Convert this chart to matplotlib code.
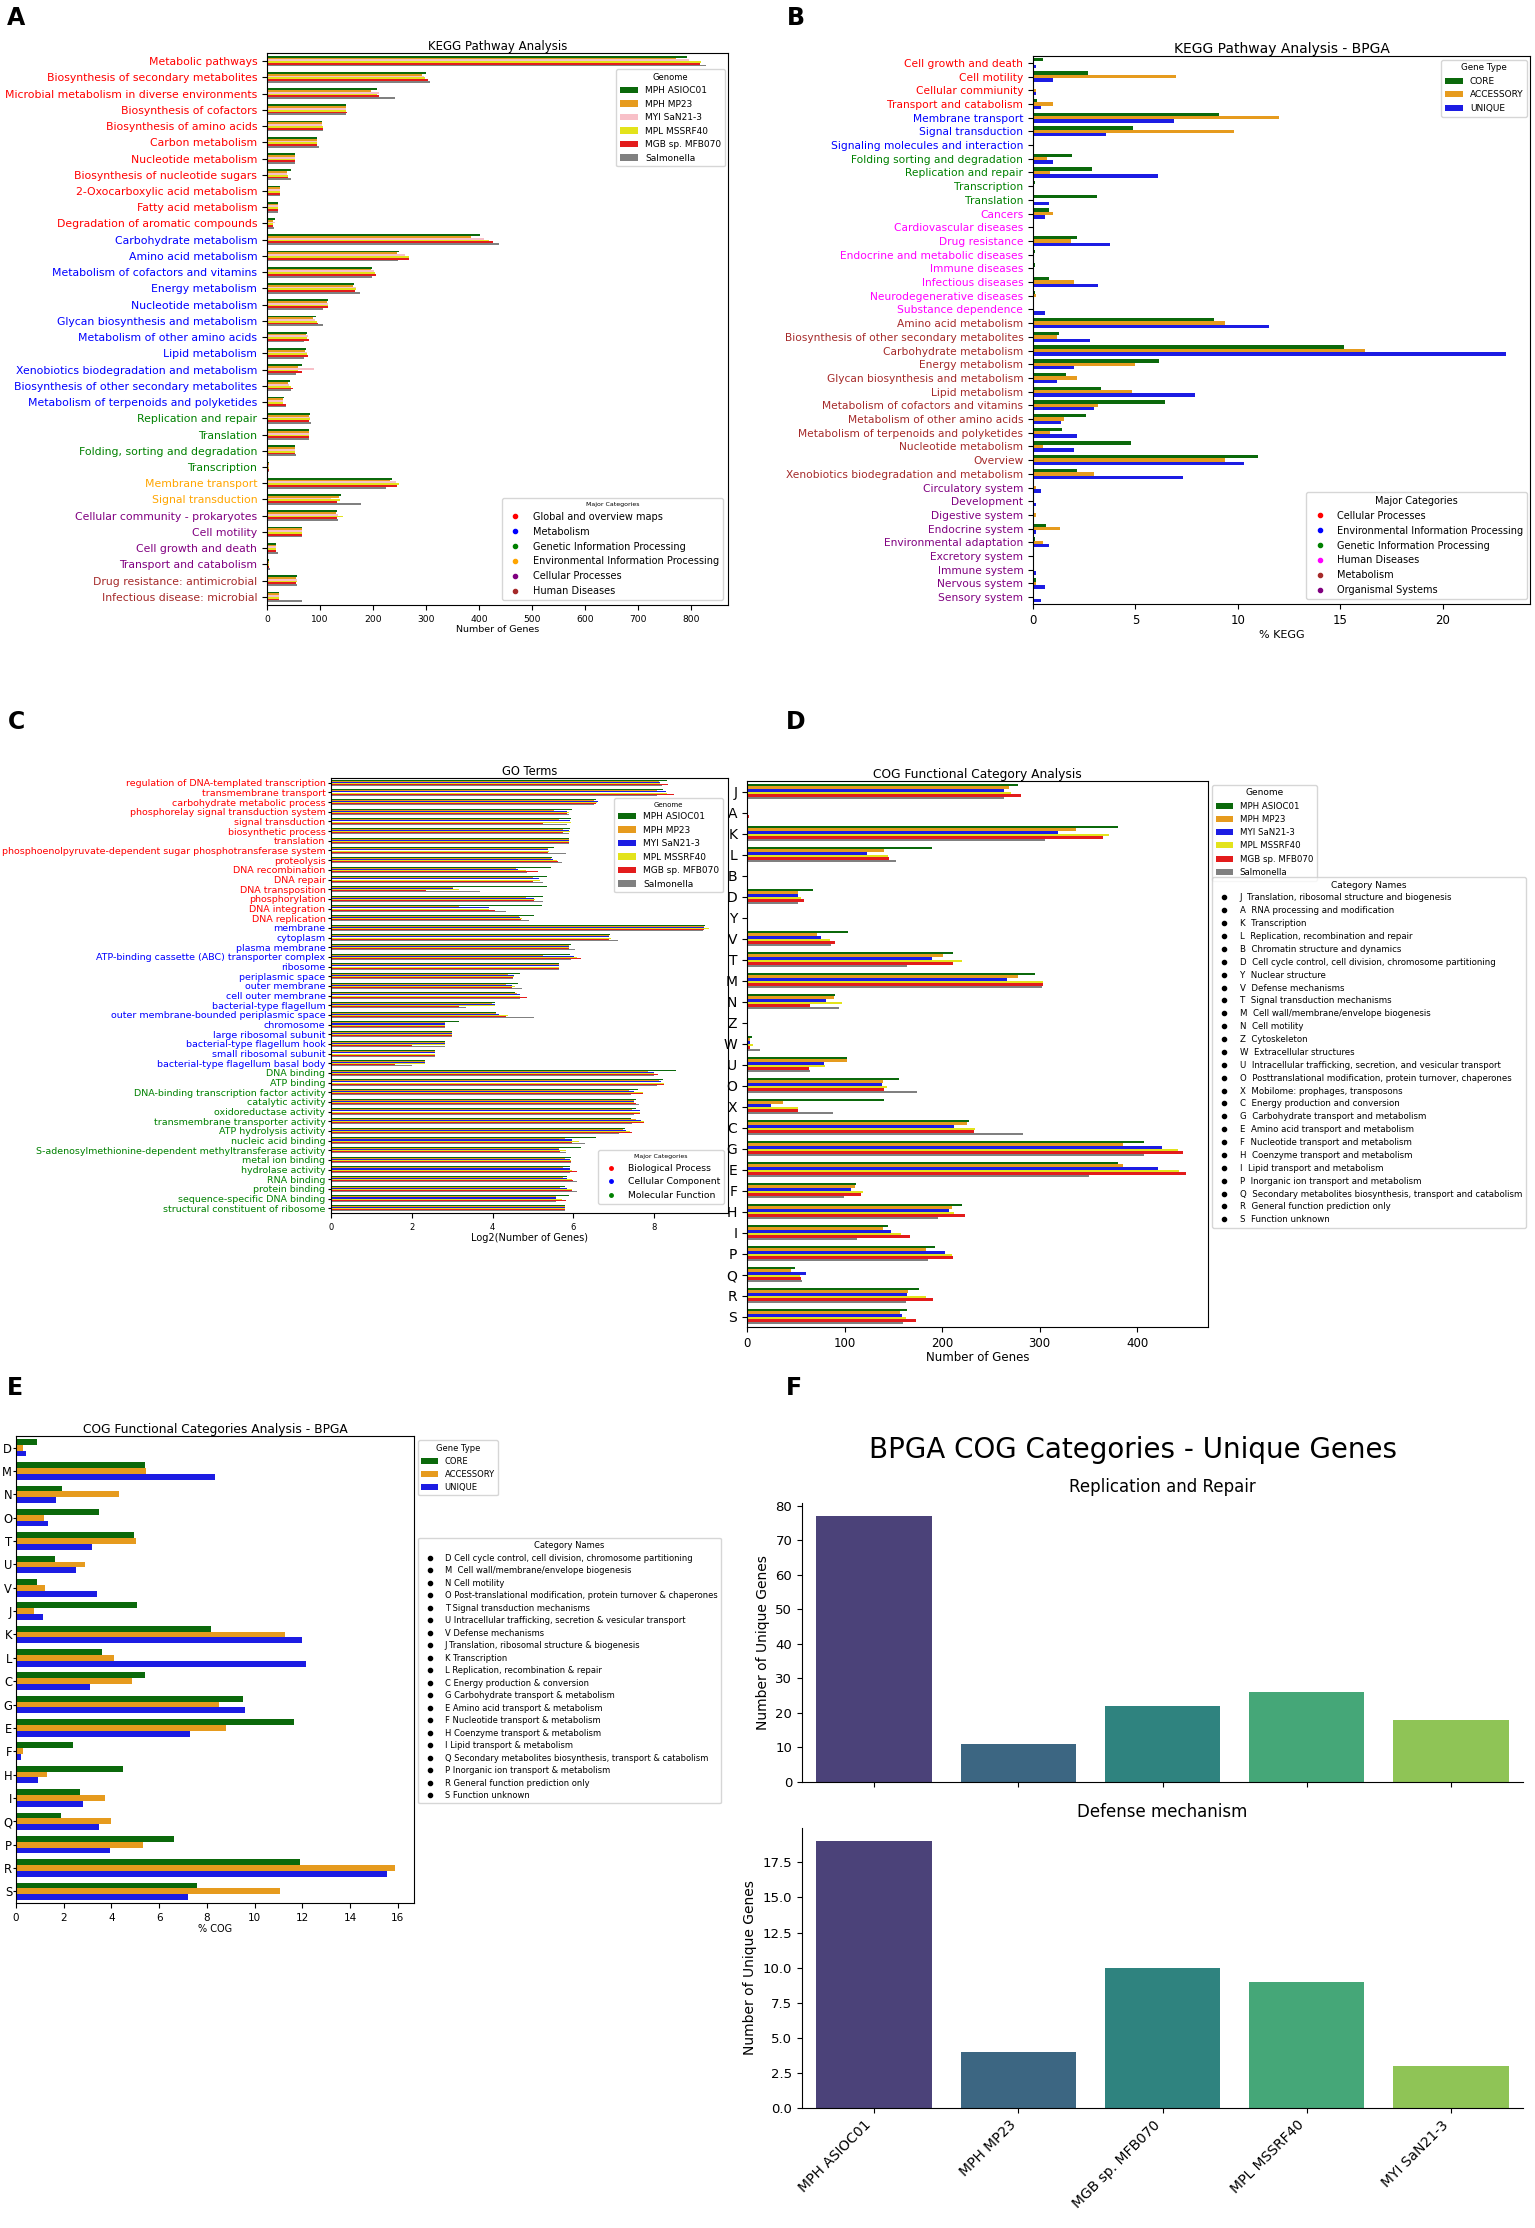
import numpy as np
import matplotlib
matplotlib.use("Agg")
import matplotlib.pyplot as plt
from matplotlib.lines import Line2D
import seaborn as sns

W, H = 1535, 2228

genomes = ["MPH ASIOC01", "MPH MP23", "MYI SaN21-3", "MPL MSSRF40", "MGB sp. MFB070", "Salmonella"]
gene_types = ["CORE", "ACCESSORY", "UNIQUE"]

# ---------------- panel A : KEGG pathways per genome ----------------
A_cats = ["Metabolic pathways", "Biosynthesis of secondary metabolites",
          "Microbial metabolism in diverse environments", "Biosynthesis of cofactors",
          "Biosynthesis of amino acids", "Carbon metabolism", "Nucleotide metabolism",
          "Biosynthesis of nucleotide sugars", "2-Oxocarboxylic acid metabolism",
          "Fatty acid metabolism", "Degradation of aromatic compounds",
          "Carbohydrate metabolism", "Amino acid metabolism",
          "Metabolism of cofactors and vitamins", "Energy metabolism", "Nucleotide metabolism",
          "Glycan biosynthesis and metabolism", "Metabolism of other amino acids",
          "Lipid metabolism", "Xenobiotics biodegradation and metabolism",
          "Biosynthesis of other secondary metabolites", "Metabolism of terpenoids and polyketides",
          "Replication and repair", "Translation", "Folding, sorting and degradation",
          "Transcription", "Membrane transport", "Signal transduction",
          "Cellular community - prokaryotes", "Cell motility", "Cell growth and death",
          "Transport and catabolism", "Drug resistance: antimicrobial",
          "Infectious disease: microbial"]
A_major = (["Global and overview maps"] * 11 + ["Metabolism"] * 11
           + ["Genetic Information Processing"] * 4
           + ["Environmental Information Processing"] * 2
           + ["Cellular Processes"] * 4 + ["Human Diseases"] * 2)
A_ASIOC01 = [793, 300, 207, 150, 103, 95, 53, 45, 24, 20, 16, 402, 250, 199, 165, 116, 93,
             76, 74, 67, 44, 32, 81, 80, 53, 4, 236, 140, 133, 66, 17, 4, 56, 22]
A_MP23 = [773, 292, 196, 150, 103, 94, 53, 38, 24, 20, 12, 386, 246, 197, 163, 114, 86,
          74, 72, 58, 40, 31, 80, 80, 53, 3, 233, 136, 131, 66, 17, 3, 54, 22]
A_SaN21 = [796, 296, 211, 150, 103, 94, 53, 38, 24, 20, 16, 410, 260, 202, 168, 115, 90,
           77, 76, 88, 42, 31, 81, 80, 53, 3, 243, 120, 135, 66, 17, 3, 56, 22]
A_MSSRF40 = [820, 298, 207, 150, 105, 95, 53, 39, 24, 20, 11, 419, 269, 204, 168, 115, 95,
             76, 76, 58, 45, 31, 81, 80, 53, 3, 250, 137, 143, 66, 17, 3, 56, 22]
A_MFB070 = [818, 304, 211, 151, 105, 95, 53, 40, 24, 20, 11, 426, 269, 205, 166, 115, 96,
            79, 77, 67, 49, 35, 80, 80, 53, 4, 245, 133, 132, 66, 17, 3, 55, 23]
A_Salm = [829, 307, 241, 150, 105, 99, 52, 46, 24, 20, 13, 439, 248, 199, 176, 106, 106,
          70, 70, 54, 46, 35, 84, 80, 54, 3, 225, 177, 135, 66, 20, 6, 56, 66]
A_major_colors = {"Global and overview maps": "red", "Metabolism": "blue",
                  "Genetic Information Processing": "green",
                  "Environmental Information Processing": "orange",
                  "Cellular Processes": "purple", "Human Diseases": "brown"}

# ---------------- panel B : KEGG BPGA ----------------
B_cats = ["Cell growth and death", "Cell motility", "Cellular commiunity",
          "Transport and catabolism", "Membrane transport", "Signal transduction",
          "Signaling molecules and interaction", "Folding sorting and degradation",
          "Replication and repair", "Transcription", "Translation", "Cancers",
          "Cardiovascular diseases", "Drug resistance", "Endocrine and metabolic diseases",
          "Immune diseases", "Infectious diseases", "Neurodegenerative diseases",
          "Substance dependence", "Amino acid metabolism",
          "Biosynthesis of other secondary metabolites", "Carbohydrate metabolism",
          "Energy metabolism", "Glycan biosynthesis and metabolism", "Lipid metabolism",
          "Metabolism of cofactors and vitamins", "Metabolism of other amino acids",
          "Metabolism of terpenoids and polyketides", "Nucleotide metabolism", "Overview",
          "Xenobiotics biodegradation and metabolism", "Circulatory system", "Development",
          "Digestive system", "Endocrine system", "Environmental adaptation",
          "Excretory system", "Immune system", "Nervous system", "Sensory system"]
B_major = (["Cellular Processes"] * 4 + ["Environmental Information Processing"] * 3
           + ["Genetic Information Processing"] * 4 + ["Human Diseases"] * 8
           + ["Metabolism"] * 12 + ["Organismal Systems"] * 9)
B_core = [0.5, 2.7, 0, 0.2, 9.1, 4.9, 0.02, 1.9, 2.9, 0.12, 3.1, 0.8, 0, 2.15, 0.1, 0.1,
          0.8, 0.12, 0, 8.85, 1.28, 15.2, 6.15, 1.6, 3.3, 6.45, 2.6, 1.43, 4.78, 11.0,
          2.15, 0, 0, 0, 0.65, 0.1, 0.03, 0.07, 0.17, 0]
B_acc = [0, 7.0, 0.15, 1.0, 12.0, 9.8, 0, 0.7, 0.85, 0, 0, 1.0, 0, 1.85, 0, 0, 2.0, 0.15,
         0, 9.35, 1.16, 16.2, 5.0, 2.15, 4.83, 3.16, 1.5, 0.85, 0.5, 9.35, 3.0, 0.15, 0,
         0.15, 1.33, 0.5, 0, 0, 0.15, 0]
B_uniq = [0.17, 1.0, 0.17, 0.4, 6.9, 3.55, 0, 1.0, 6.1, 0, 0.8, 0.6, 0, 3.75, 0, 0, 3.15,
          0, 0.6, 11.5, 2.78, 23.1, 2.0, 1.18, 7.9, 2.97, 1.38, 2.17, 1.98, 10.3, 7.3, 0.4,
          0.17, 0, 0.17, 0.8, 0, 0.17, 0.6, 0.4]
B_major_colors = {"Cellular Processes": "red", "Environmental Information Processing": "blue",
                  "Genetic Information Processing": "green", "Human Diseases": "magenta",
                  "Metabolism": "brown", "Organismal Systems": "purple"}

# ---------------- panel C : GO terms (log2 counts) ----------------
C_terms = ["regulation of DNA-templated transcription", "transmembrane transport",
           "carbohydrate metabolic process", "phosphorelay signal transduction system",
           "signal transduction", "biosynthetic process", "translation",
           "phosphoenolpyruvate-dependent sugar phosphotransferase system", "proteolysis",
           "DNA recombination", "DNA repair", "DNA transposition", "phosphorylation",
           "DNA integration", "DNA replication", "membrane", "cytoplasm", "plasma membrane",
           "ATP-binding cassette (ABC) transporter complex", "ribosome", "periplasmic space",
           "outer membrane", "cell outer membrane", "bacterial-type flagellum",
           "outer membrane-bounded periplasmic space", "chromosome",
           "large ribosomal subunit", "bacterial-type flagellum hook",
           "small ribosomal subunit", "bacterial-type flagellum basal body", "DNA binding",
           "ATP binding", "DNA-binding transcription factor activity", "catalytic activity",
           "oxidoreductase activity", "transmembrane transporter activity",
           "ATP hydrolysis activity", "nucleic acid binding",
           "S-adenosylmethionine-dependent methyltransferase activity", "metal ion binding",
           "hydrolase activity", "RNA binding", "protein binding",
           "sequence-specific DNA binding", "structural constituent of ribosome"]
C_major = ["Biological Process"] * 15 + ["Cellular Component"] * 15 + ["Molecular Function"] * 15
C_ASIOC01 = [8.33, 8.22, 6.55, 5.96, 5.93, 5.92, 5.9, 5.52, 5.47, 5.45, 5.35, 5.35, 5.24,
             5.22, 5.03, 9.26, 6.9, 5.93, 5.91, 5.64, 4.68, 4.64, 4.56, 4.07, 4.09, 3.16,
             3.0, 2.81, 2.58, 2.32, 8.54, 8.22, 7.6, 7.56, 7.54, 7.43, 7.29, 6.57, 6.2,
             5.94, 5.91, 5.85, 5.79, 5.88, 5.79]
C_MP23 = [8.13, 8.07, 6.52, 5.52, 5.64, 5.75, 5.88, 5.38, 5.44, 4.58, 5.0, 3.02, 4.82,
          3.18, 4.65, 9.24, 6.88, 5.9, 5.26, 5.64, 4.39, 4.33, 4.6, 3.98, 4.09, 2.81, 3.0,
          2.81, 2.58, 2.32, 7.84, 8.13, 7.37, 7.5, 7.44, 7.54, 7.23, 5.79, 5.65, 5.79,
          5.75, 5.75, 5.67, 5.56, 5.79]
C_SaN21 = [8.15, 8.3, 6.6, 5.85, 5.92, 5.9, 5.9, 5.38, 5.5, 4.62, 5.15, 3.02, 5.03, 3.92,
           4.68, 9.24, 6.88, 5.9, 6.02, 5.64, 4.53, 4.47, 4.68, 4.07, 4.16, 2.81, 3.0,
           2.81, 2.58, 2.32, 8.0, 8.18, 7.49, 7.5, 7.66, 7.68, 7.31, 5.96, 5.65, 5.92,
           5.91, 5.85, 5.85, 5.56, 5.79]
C_MSSRF40 = [8.15, 8.32, 6.58, 5.9, 5.95, 5.92, 5.9, 5.4, 5.6, 4.82, 5.17, 3.16, 5.05,
             3.92, 4.74, 9.36, 6.92, 5.9, 6.1, 5.64, 4.53, 4.56, 4.68, 4.07, 4.39, 2.81,
             3.0, 2.81, 2.58, 2.32, 8.0, 8.25, 7.72, 7.5, 7.66, 7.74, 7.4, 6.14, 5.81,
             5.94, 5.96, 5.96, 5.96, 5.73, 5.79]
C_MFB070 = [8.34, 8.48, 6.57, 5.85, 5.26, 5.75, 5.9, 5.38, 5.61, 5.12, 5.0, 2.34, 5.03,
            4.07, 4.7, 9.24, 6.88, 5.88, 6.2, 5.64, 4.5, 4.47, 4.85, 3.18, 4.33, 2.81, 3.0,
            2.0, 2.58, 1.58, 8.1, 8.25, 7.72, 7.54, 7.66, 7.74, 7.46, 5.96, 5.67, 5.94,
            6.1, 5.99, 5.96, 5.82, 5.79]
C_Salm = [8.2, 8.07, 6.5, 5.9, 5.85, 5.9, 5.9, 5.82, 5.73, 4.85, 5.24, 3.7, 5.24, 4.32,
          4.89, 9.22, 7.1, 6.05, 5.95, 5.64, 4.5, 4.74, 4.68, 3.33, 5.03, 2.81, 3.0, 2.81,
          2.58, 2.0, 8.0, 8.07, 7.43, 7.63, 7.49, 7.46, 7.13, 6.28, 5.81, 5.94, 5.91, 6.1,
          6.1, 5.56, 5.79]
C_major_colors = {"Biological Process": "red", "Cellular Component": "blue",
                  "Molecular Function": "green"}

# ---------------- panel D : COG per genome ----------------
D_cats = ["J", "A", "K", "L", "B", "D", "Y", "V", "T", "M", "N", "Z", "W", "U", "O", "X",
          "C", "G", "E", "F", "H", "I", "P", "Q", "R", "S"]
D_names = ["Translation, ribosomal structure and biogenesis",
           "RNA processing and modification", "Transcription",
           "Replication, recombination and repair", "Chromatin structure and dynamics",
           "Cell cycle control, cell division, chromosome partitioning", "Nuclear structure",
           "Defense mechanisms", "Signal transduction mechanisms",
           "Cell wall/membrane/envelope biogenesis", "Cell motility", "Cytoskeleton",
           "Extracellular structures",
           "Intracellular trafficking, secretion, and vesicular transport",
           "Posttranslational modification, protein turnover, chaperones",
           "Mobilome: prophages, transposons", "Energy production and conversion",
           "Carbohydrate transport and metabolism", "Amino acid transport and metabolism",
           "Nucleotide transport and metabolism", "Coenzyme transport and metabolism",
           "Lipid transport and metabolism", "Inorganic ion transport and metabolism",
           "Secondary metabolites biosynthesis, transport and catabolism",
           "General function prediction only", "Function unknown"]
D_ASIOC01 = [278, 1, 380, 190, 0, 68, 0, 104, 211, 295, 90, 1, 5, 102, 156, 140, 228, 407,
             380, 112, 220, 145, 193, 49, 176, 164]
D_MP23 = [269, 1, 337, 140, 0, 52, 0, 72, 201, 278, 89, 1, 3, 102, 139, 37, 225, 385, 385,
          111, 210, 139, 183, 45, 165, 157]
D_SaN21 = [263, 1, 319, 123, 0, 52, 0, 76, 190, 266, 81, 1, 3, 79, 138, 25, 212, 425, 421,
           107, 207, 148, 203, 60, 164, 159]
D_MSSRF40 = [271, 1, 371, 145, 0, 55, 0, 85, 220, 303, 97, 1, 6, 80, 143, 52, 234, 442,
             443, 119, 212, 158, 210, 54, 183, 163]
D_MFB070 = [281, 2, 365, 146, 0, 58, 0, 90, 211, 303, 65, 1, 3, 64, 140, 52, 233, 447,
            450, 117, 223, 167, 211, 55, 191, 173]
D_Salm = [263, 0, 305, 153, 0, 52, 0, 86, 164, 302, 94, 0, 13, 65, 174, 88, 283, 407, 351,
          99, 196, 113, 186, 56, 163, 160]

# ---------------- panel E : COG BPGA ----------------
E_cats = ["D", "M", "N", "O", "T", "U", "V", "J", "K", "L", "C", "G", "E", "F", "H", "I",
          "Q", "P", "R", "S"]
E_names = ["Cell cycle control, cell division, chromosome partitioning",
           " Cell wall/membrane/envelope biogenesis", "Cell motility",
           "Post-translational modification, protein turnover & chaperones",
           "Signal transduction mechanisms",
           "Intracellular trafficking, secretion & vesicular transport",
           "Defense mechanisms", "Translation, ribosomal structure & biogenesis",
           "Transcription", "Replication, recombination & repair",
           "Energy production & conversion", "Carbohydrate transport & metabolism",
           "Amino acid transport & metabolism", "Nucleotide transport & metabolism",
           "Coenzyme transport & metabolism", "Lipid transport & metabolism",
           "Secondary metabolites biosynthesis, transport & catabolism",
           "Inorganic ion transport & metabolism", "General function prediction only",
           "Function unknown"]
E_core = [0.9, 5.39, 1.92, 3.49, 4.95, 1.64, 0.9, 5.09, 8.18, 3.62, 5.39, 9.5, 11.64,
          2.38, 4.5, 2.67, 1.9, 6.61, 11.9, 7.6]
E_acc = [0.3, 5.45, 4.32, 1.19, 5.01, 2.89, 1.2, 0.75, 11.27, 4.12, 4.85, 8.5, 8.79, 0.3,
         1.29, 3.72, 3.96, 5.31, 15.88, 11.05]
E_uniq = [0.4, 8.32, 1.66, 1.35, 3.17, 2.5, 3.4, 1.13, 12.0, 12.16, 3.09, 9.58, 7.27,
          0.22, 0.91, 2.81, 3.49, 3.94, 15.56, 7.19]

# ---------------- panel F : unique genes ----------------
F_genomes = ["MPH ASIOC01", "MPH MP23", "MGB sp. MFB070", "MPL MSSRF40", "MYI SaN21-3"]
F_replication = [77, 11, 22, 26, 18]
F_defense = [19, 4, 10, 9, 3]

GREEN, ORANGE, PINK, YELLOW = "#0b690b", "#e69b1e", "#f8c0c8", "#e3e31b"
RED, GREY, BLUE = "#e31c1c", "#808080", "#1c1ce3"

fig = plt.figure(figsize=(W / 100, H / 100), dpi=100)


def px_axes(l, t, r, b):
    return fig.add_axes([l / W, 1 - b / H, (r - l) / W, (b - t) / H])


def grouped_barh(ax, series, labels, colors, h):
    n = len(series[0])
    pos = np.arange(n)
    k = len(series)
    for i, (vals, lab, c) in enumerate(zip(series, labels, colors)):
        ax.barh(pos + (i - (k - 1) / 2) * h, vals, height=h, color=c, label=lab)
    ax.set_ylim(n - 0.5, -0.5)
    ax.set_yticks(pos)


def dot_handles(names, colors, ms):
    return [Line2D([0], [0], marker="o", linestyle="", markerfacecolor=c,
                   markeredgecolor=c, markersize=ms, label=nm)
            for nm, c in zip(names, colors)]


def letter(x, y, s):
    fig.text(x / W, 1 - y / H, s, fontsize=17, fontweight="bold", va="center", ha="left")


# ---- A
ax = px_axes(267, 53, 728, 605)
grouped_barh(ax, [A_ASIOC01, A_MP23, A_SaN21, A_MSSRF40, A_MFB070, A_Salm], genomes,
             [GREEN, ORANGE, PINK, YELLOW, RED, GREY], 0.11)
ax.set_yticklabels(A_cats, fontsize=7.8)
for t, m in zip(ax.get_yticklabels(), A_major):
    t.set_color(A_major_colors[m])
ax.tick_params(axis="x", labelsize=6.6)
ax.set_xlabel("Number of Genes", fontsize=6.8, labelpad=1)
ax.set_title("KEGG Pathway Analysis", fontsize=8.5, pad=2)
leg1 = ax.legend(title="Genome", fontsize=6.5, title_fontsize=6, loc="upper right",
                 bbox_to_anchor=(0.993, 0.971), borderaxespad=0)
ax.add_artist(leg1)
ax.legend(handles=dot_handles(list(A_major_colors), list(A_major_colors.values()), 3),
          title="Major Categories", fontsize=7, title_fontsize=4.5, loc="lower right",
          bbox_to_anchor=(0.989, 0.009), borderaxespad=0)
letter(7, 18, "A")

# ---- B
ax = px_axes(1033, 56, 1530, 604)
grouped_barh(ax, [B_core, B_acc, B_uniq], gene_types, [GREEN, ORANGE, BLUE], 0.25)
ax.set_yticklabels(B_cats, fontsize=7.7)
for t, m in zip(ax.get_yticklabels(), B_major):
    t.set_color(B_major_colors[m])
ax.tick_params(axis="x", labelsize=8.5)
ax.set_xlabel("% KEGG", fontsize=8, labelpad=2)
ax.set_title("KEGG Pathway Analysis - BPGA", fontsize=10, pad=2)
leg1 = ax.legend(title="Gene Type", fontsize=6.5, title_fontsize=6.3, loc="upper right",
                 bbox_to_anchor=(0.994, 0.993), borderaxespad=0)
ax.add_artist(leg1)
ax.legend(handles=dot_handles(list(B_major_colors), list(B_major_colors.values()), 3),
          title="Major Categories", fontsize=7, title_fontsize=7, loc="lower right",
          bbox_to_anchor=(0.994, 0.009), borderaxespad=0)
letter(787, 18, "B")

# ---- C
ax = px_axes(331, 778, 728, 1213)
grouped_barh(ax, [C_ASIOC01, C_MP23, C_SaN21, C_MSSRF40, C_MFB070, C_Salm], genomes,
             [GREEN, ORANGE, BLUE, YELLOW, RED, GREY], 0.11)
ax.set_yticklabels(C_terms, fontsize=6.8)
for t, m in zip(ax.get_yticklabels(), C_major):
    t.set_color(C_major_colors[m])
ax.tick_params(axis="x", labelsize=6)
ax.tick_params(axis="y", length=2.5, pad=1.5)
ax.set_xlabel("Log2(Number of Genes)", fontsize=7, labelpad=1)
ax.set_title("GO Terms", fontsize=8.3, pad=2)
leg1 = ax.legend(title="Genome", fontsize=6.5, title_fontsize=5, loc="upper right",
                 bbox_to_anchor=(0.987, 0.954), borderaxespad=0)
ax.add_artist(leg1)
ax.legend(handles=dot_handles(list(C_major_colors), list(C_major_colors.values()), 2.5),
          title="Major Categories", fontsize=6.7, title_fontsize=4.5, loc="lower right",
          bbox_to_anchor=(0.99, 0.021), borderaxespad=0)
letter(8, 722, "C")

# ---- D
ax = px_axes(747, 781, 1208, 1327)
grouped_barh(ax, [D_ASIOC01, D_MP23, D_SaN21, D_MSSRF40, D_MFB070, D_Salm], genomes,
             [GREEN, ORANGE, BLUE, YELLOW, RED, GREY], 0.12)
ax.set_yticklabels(D_cats, fontsize=10)
ax.tick_params(axis="x", labelsize=8.5)
ax.set_xlabel("Number of Genes", fontsize=8.5, labelpad=1)
ax.set_title("COG Functional Category Analysis", fontsize=8.8, pad=2)
leg1 = ax.legend(title="Genome", fontsize=6.2, title_fontsize=6.5, loc="upper left",
                 bbox_to_anchor=(1.009, 0.993), borderaxespad=0)
ax.add_artist(leg1)
ax.legend(handles=dot_handles([f"{c}  {n}" for c, n in zip(D_cats, D_names)],
                              ["black"] * len(D_cats), 3),
          title="Category Names", fontsize=6.2, title_fontsize=6.5, loc="upper left",
          bbox_to_anchor=(1.009, 0.824), borderaxespad=0, labelspacing=0.45)
letter(786, 722, "D")

# ---- E
ax = px_axes(16, 1436, 414, 1903)
grouped_barh(ax, [E_core, E_acc, E_uniq], gene_types, [GREEN, ORANGE, BLUE], 0.25)
ax.set_yticklabels(E_cats, fontsize=8.3)
ax.tick_params(axis="y", length=2, pad=0.8)
ax.tick_params(axis="x", labelsize=7.5)
ax.set_xlabel("% COG", fontsize=7, labelpad=1)
ax.set_title("COG Functional Categories Analysis - BPGA", fontsize=8.8, pad=2)
leg1 = ax.legend(title="Gene Type", fontsize=6, title_fontsize=6, loc="upper left",
                 bbox_to_anchor=(1.01, 0.991), borderaxespad=0)
ax.add_artist(leg1)
ax.legend(handles=dot_handles([f"{c} {n}" for c, n in zip(E_cats, E_names)],
                              ["black"] * len(E_cats), 3),
          title="Category Names", fontsize=6, title_fontsize=6, loc="upper left",
          bbox_to_anchor=(1.01, 0.782), borderaxespad=0, labelspacing=0.42)
letter(7, 1388, "E")

# ---- F
pal = sns.color_palette("viridis", len(F_genomes), desat=0.75)
xpos = np.arange(len(F_genomes))
ax1 = px_axes(802, 1503, 1523, 1782)
ax1.bar(xpos, F_replication, width=0.8, color=pal)
ax1.set_xlim(-0.5, len(F_genomes) - 0.5)
ax1.set_xticks(xpos)
ax1.set_xticklabels([])
ax1.set_title("Replication and Repair", fontsize=12, pad=8)
ax1.set_ylabel("Number of Unique Genes", fontsize=10)
ax1.tick_params(labelsize=9.5)
ax1.spines[["top", "right"]].set_visible(False)

ax2 = px_axes(802, 1828, 1523, 2108)
ax2.bar(xpos, F_defense, width=0.8, color=pal)
ax2.set_xlim(-0.5, len(F_genomes) - 0.5)
ax2.set_xticks(xpos)
ax2.set_xticklabels(F_genomes, rotation=45, ha="right", fontsize=10)
ax2.set_title("Defense mechanism", fontsize=12, pad=8)
ax2.set_ylabel("Number of Unique Genes", fontsize=10)
ax2.tick_params(axis="y", labelsize=9.5)
ax2.spines[["top", "right"]].set_visible(False)

fig.text(1133 / W, 1 - 1450 / H, "BPGA COG Categories - Unique Genes", fontsize=20,
         ha="center", va="center")
letter(786, 1388, "F")

fig.savefig("out.png", dpi=100)
